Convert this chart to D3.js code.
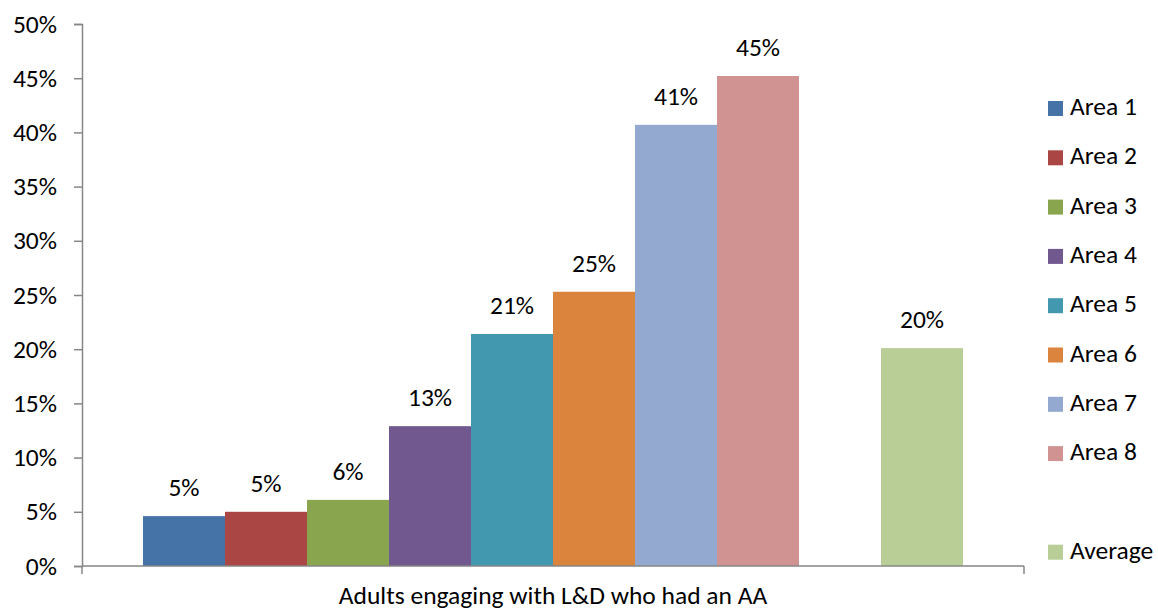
<!DOCTYPE html>
<html>
<head>
<meta charset="utf-8">
<script src="https://cdn.jsdelivr.net/npm/d3@7"></script>
<style>
	body { margin: 0; background: #fff; }
	text { font-family: Calibri, Carlito, "Open Sans", sans-serif; fill: #000; }
</style>
</head>
<body>
<svg id="chart" width="1158" height="612"></svg>
<script>
// one category on the x axis, each area is its own series
var categories = ["Adults engaging with L&D who had an AA"];
// "" is the empty series Excel keeps between Area 8 and Average
var seriesNames = ["Area 1", "Area 2", "Area 3", "Area 4", "Area 5", "Area 6", "Area 7", "Area 8", "", "Average"];
var seriesValues = [0.046, 0.050, 0.061, 0.129, 0.214, 0.253, 0.407, 0.452, null, 0.201];
var seriesColors = ["#4572A7", "#AA4643", "#89A54E", "#71588F", "#4198AF", "#DB843D", "#93A9CF", "#D19392", "none", "#B9CD96"];
var yTicks = [0, 0.05, 0.10, 0.15, 0.20, 0.25, 0.30, 0.35, 0.40, 0.45, 0.50];

var svg = d3.select("#chart");
var fontSize = 25.5;
var axisColor = "#868686";

var plotLeft = 82, plotRight = 1024, plotTop = 24, plotBottom = 566;

var y = d3.scaleLinear().domain([0, 0.5]).range([plotBottom, plotTop]);
var x0 = d3.scaleBand().domain(categories).range([plotLeft, plotRight]);
var x1 = d3.scaleBand().domain(d3.range(seriesNames.length))
	.range([0, x0.bandwidth()])
	.paddingOuter(0.744);

var data = seriesNames.map(function(name, i) {
	return { name: name, value: seriesValues[i], color: seriesColors[i], idx: i };
});

// y axis
var yAxis = d3.axisLeft(y).tickValues(yTicks).tickFormat(d3.format(".0%")).tickSize(8).tickPadding(17);
var gy = svg.append("g").attr("transform", "translate(" + plotLeft + ",0)").call(yAxis);
gy.select(".domain").attr("stroke", axisColor).attr("stroke-width", 1.5);
gy.selectAll(".tick line").attr("stroke", axisColor).attr("stroke-width", 1.5);
gy.selectAll(".tick text").style("font-size", fontSize + "px").attr("fill", "#000");

// bars
var bars = svg.append("g").selectAll("rect")
	.data(data.filter(function(d) { return d.value != null; }))
	.enter().append("rect")
	.attr("x", function(d) { return x0(categories[0]) + x1(d.idx); })
	.attr("y", function(d) { return y(d.value); })
	.attr("width", x1.bandwidth())
	.attr("height", function(d) { return y(0) - y(d.value); })
	.attr("fill", function(d) { return d.color; });

// value labels
svg.append("g").selectAll("text")
	.data(data.filter(function(d) { return d.value != null; }))
	.enter().append("text")
	.attr("x", function(d) { return x0(categories[0]) + x1(d.idx) + x1.bandwidth() / 2; })
	.attr("y", function(d) { return y(d.value) - 26; })
	.attr("text-anchor", "middle")
	.attr("dominant-baseline", "middle")
	.style("font-size", fontSize + "px")
	.text(function(d) { return d3.format(".0%")(d.value); });

// x axis: baseline plus a tick at each end of the category
var xAxis = d3.axisBottom(x0).tickSize(0).tickFormat("");
var gx = svg.append("g").attr("transform", "translate(0," + plotBottom + ")").call(xAxis);
gx.select(".domain").remove();
gx.append("line").attr("x1", plotLeft).attr("x2", plotRight).attr("y1", 0).attr("y2", 0)
	.attr("stroke", axisColor).attr("stroke-width", 1.5);
[plotLeft, plotRight].forEach(function(px) {
	gx.append("line").attr("x1", px).attr("x2", px).attr("y1", 0).attr("y2", 8)
		.attr("stroke", axisColor).attr("stroke-width", 1.5);
});
svg.append("text")
	.attr("x", x0(categories[0]) + x0.bandwidth() / 2)
	.attr("y", 598)
	.attr("text-anchor", "middle")
	.attr("dominant-baseline", "middle")
	.style("font-size", fontSize + "px")
	.text(categories[0]);

// legend
var legend = svg.append("g").selectAll("g")
	.data(data)
	.enter().append("g")
	.attr("transform", function(d, i) { return "translate(1048," + (101 + i * 49.3) + ")"; });
legend.filter(function(d) { return d.name !== ""; }).append("rect")
	.attr("width", 15).attr("height", 15)
	.attr("fill", function(d) { return d.color; });
legend.filter(function(d) { return d.name !== ""; }).append("text")
	.attr("x", 22).attr("y", 8)
	.attr("dominant-baseline", "middle")
	.style("font-size", fontSize + "px")
	.text(function(d) { return d.name; });
</script>
</body>
</html>
